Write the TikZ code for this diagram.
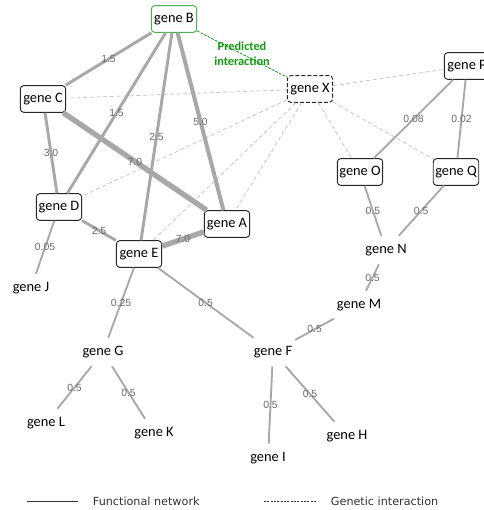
\documentclass[tikz,border=0pt]{standalone}
\usepackage{fontspec}
\newfontfamily\genefont{Carlito}
\newfontfamily\weightfont{Liberation Sans}
\newfontfamily\legendfont{DejaVu Sans}
\usetikzlibrary{positioning}
\definecolor{edgegray}{HTML}{A8A8A8}
\definecolor{dashgray}{HTML}{C6C6C6}
\definecolor{weightgray}{HTML}{6A6A6A}
\definecolor{predgreen}{HTML}{109A10}
\definecolor{boxgreen}{HTML}{4CAF50}

\begin{document}
\begin{tikzpicture}[x=0.75pt,y=-0.75pt,
  gene/.style={draw=black!85,line width=0.7pt,rounded corners=2.5pt,fill=white,
    minimum width=34pt,minimum height=20pt,inner sep=1.5pt,
    font=\genefont\fontsize{10.8}{12}\selectfont},
  plaingene/.style={minimum height=21pt,inner xsep=2pt,inner ysep=1pt,
    font=\genefont\fontsize{10.8}{12}\selectfont},
  funct/.style={draw=edgegray,line width=1.4pt},
  strong/.style={funct,line width=2.2pt},
  genetic/.style={draw=dashgray,line width=0.6pt,dash pattern=on 3pt off 2pt},
  weight/.style={midway,inner sep=0pt,text=weightgray,
    font=\weightfont\fontsize{7.8}{9}\selectfont},
  legendtext/.style={inner sep=0pt,anchor=west,text=black!80,
    font=\legendfont\fontsize{8.4}{10}\selectfont}
]
  \clip (0,0) rectangle (484,510);

  \node[gene,draw=boxgreen] (geneB) at (174,19) {gene B};
  \node[gene] (geneC) at (43,99) {gene C};
  \node[gene] (geneD) at (59,207) {gene D};
  \node[gene] (geneA) at (227,224) {gene A};
  \node[gene] (geneE) at (139,254) {gene E};
  \node[gene,dash pattern=on 3pt off 1.5pt] (geneX) at (310,89) {gene X};
  \node[gene] (geneP) at (467,66) {gene P};
  \node[gene] (geneO) at (360,172) {gene O};
  \node[gene] (geneQ) at (456,172) {gene Q};

  \node[plaingene] (geneN) at (386,250) {gene N};
  \node[plaingene] (geneM) at (359,305) {gene M};
  \node[plaingene] (geneF) at (273,352) {gene F};
  \node[plaingene] (geneH) at (347,436) {gene H};
  \node[plaingene] (geneI) at (268,458) {gene I};
  \node[plaingene] (geneG) at (103,352) {gene G};
  \node[plaingene] (geneL) at (46,423) {gene L};
  \node[plaingene] (geneK) at (154,433) {gene K};
  \node[plaingene] (geneJ) at (31,288) {gene J};

  % genetic interactions
  \draw[genetic] (geneX) -- (geneC);
  \draw[genetic] (geneX) -- (geneD);
  \draw[genetic] (geneX) -- (geneE);
  \draw[genetic] (geneX) -- (geneA);
  \draw[genetic] (geneX) -- (geneP);
  \draw[genetic] (geneX) -- (geneO);
  \draw[genetic] (geneX) -- (geneQ);
  \draw[draw=predgreen,line width=0.6pt,dash pattern=on 2pt off 1pt] (geneB) -- (geneX)
    node[midway,align=center,inner sep=0pt,text=predgreen,
      font=\genefont\bfseries\fontsize{9.2}{11}\selectfont] {Predicted\\interaction};

  % functional network
  \draw[strong] (geneB) -- (geneC) node[weight] {1.5};
  \draw[strong] (geneB) -- (geneD) node[weight] {1.5};
  \draw[strong] (geneB) -- (geneE) node[weight] {2.5};
  \draw[funct,line width=3pt] (geneB) -- (geneA) node[weight] {5.0};
  \draw[funct,line width=4pt] (geneC) -- (geneA) node[weight] {7.0};
  \draw[strong] (geneC) -- (geneD) node[weight] {3.0};
  \draw[strong] (geneD) -- (geneE) node[weight] {2.5};
  \draw[funct,line width=4pt] (geneE) -- (geneA) node[weight] {7.0};
  \draw[funct] (geneD) -- (geneJ) node[weight] {0.05};
  \draw[funct] (geneE) -- (geneG) node[weight] {0.25};
  \draw[funct] (geneE) -- (geneF) node[weight] {0.5};
  \draw[funct] (geneG) -- (geneL) node[weight] {0.5};
  \draw[funct] (geneG) -- (geneK) node[weight] {0.5};
  \draw[funct] (geneF) -- (geneI) node[weight] {0.5};
  \draw[funct] (geneF) -- (geneH) node[weight] {0.5};
  \draw[funct] (geneF) -- (geneM) node[weight] {0.5};
  \draw[funct] (geneM) -- (geneN) node[weight] {0.5};
  \draw[funct] (geneN) -- (geneO) node[weight] {0.5};
  \draw[funct] (geneN) -- (geneQ) node[weight] {0.5};
  \draw[funct] (geneP) -- (geneO) node[weight] {0.08};
  \draw[funct] (geneP) -- (geneQ) node[weight] {0.02};

  % legend
  \coordinate (fn1) at (27,501);
  \coordinate (fn2) at (78,501);
  \coordinate (gi1) at (264,501);
  \coordinate (gi2) at (316,501);
  \draw[draw=black!80,line width=0.6pt] (fn1) -- (fn2);
  \draw[draw=black!80,line width=0.6pt,dash pattern=on 1.5pt off 1pt] (gi1) -- (gi2);
  \node[legendtext,right=11pt of fn2] (fntext) {Functional network};
  \node[legendtext,right=11pt of gi2] (gitext) {Genetic interaction};
\end{tikzpicture}
\end{document}
